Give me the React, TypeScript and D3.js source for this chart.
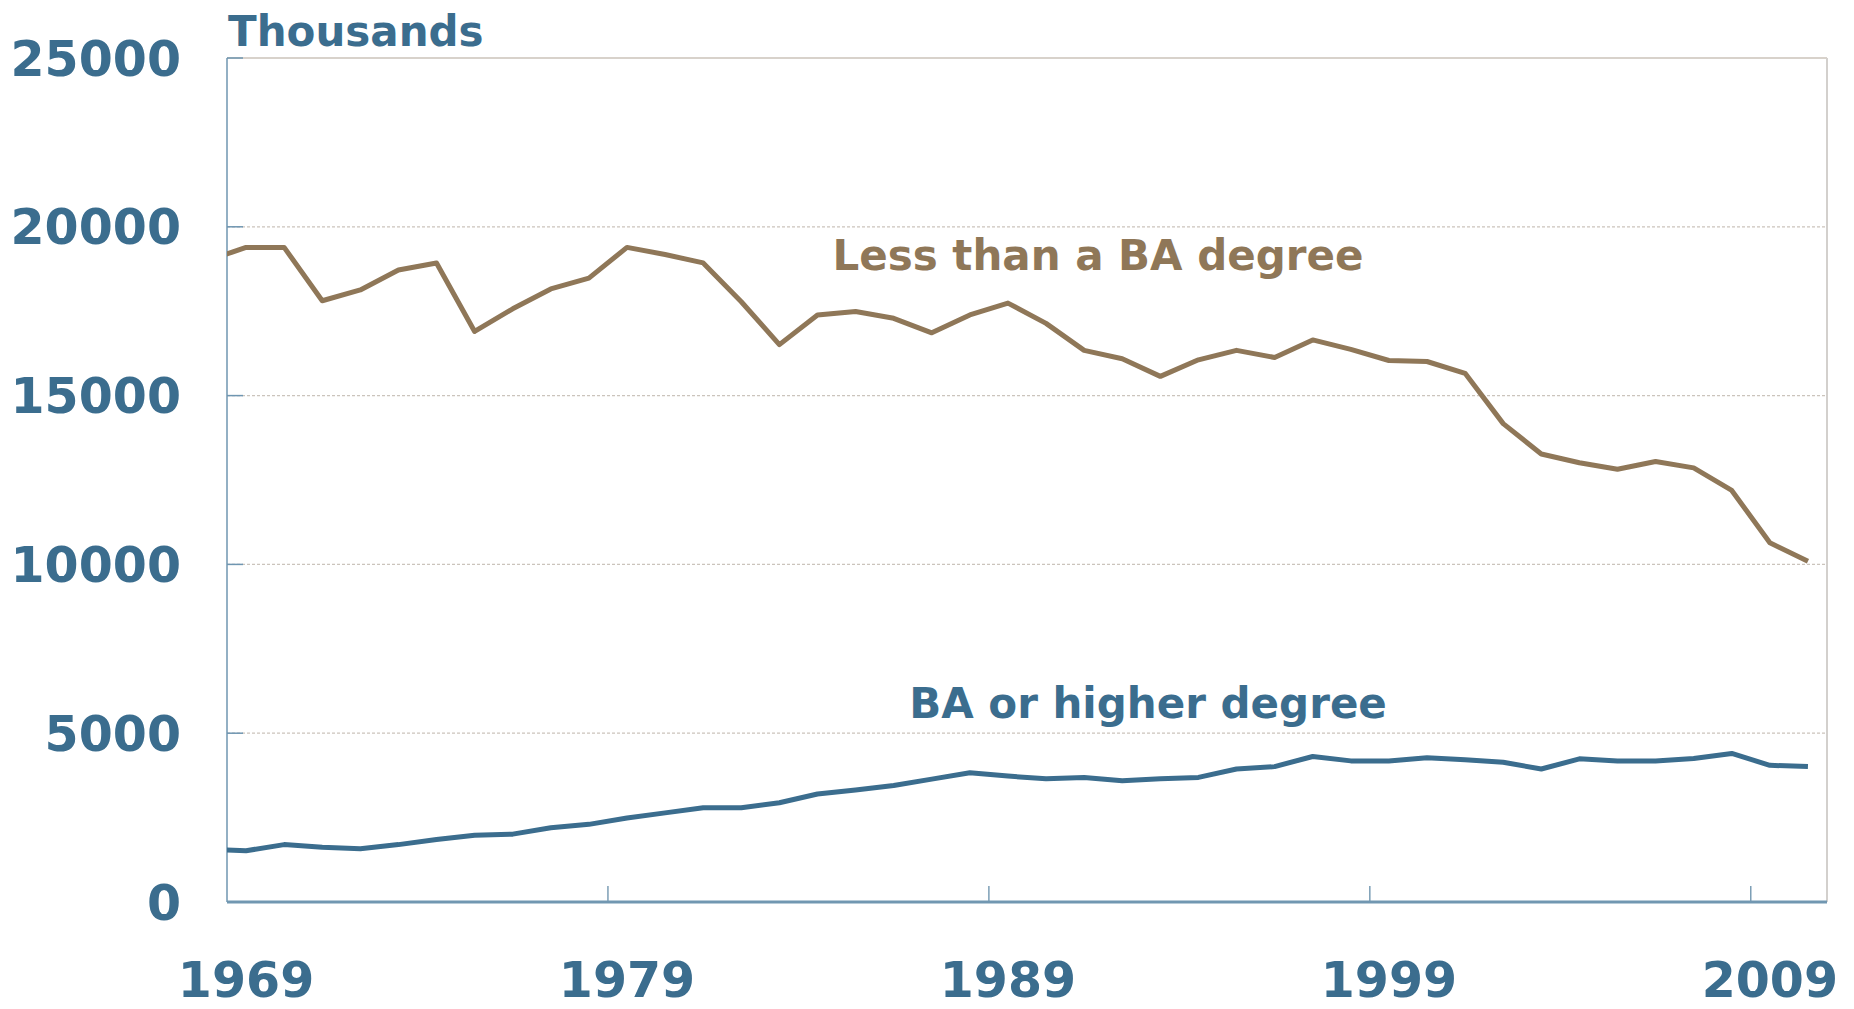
import React from 'react';
import * as d3 from 'd3';

// yearly values, thousands of workers (1968 only feeds the clipped lead-in segment)
const years = [
  1968, 1969, 1970, 1971, 1972, 1973, 1974, 1975, 1976, 1977, 1978,
  1979, 1980, 1981, 1982, 1983, 1984, 1985, 1986, 1987, 1988,
  1989, 1990, 1991, 1992, 1993, 1994, 1995, 1996, 1997, 1998,
  1999, 2000, 2001, 2002, 2003, 2004, 2005, 2006, 2007, 2008,
  2009, 2010,
];

const lessThanBA = [
  19000, 19390, 19390, 17810, 18130, 18720, 18930, 16900, 17570, 18160, 18480,
  19390, 19180, 18930, 17780, 16510, 17390, 17490, 17290, 16860, 17390,
  17740, 17140, 16340, 16090, 15570, 16060, 16340, 16130, 16650, 16370,
  16040, 16010, 15660, 14170, 13270, 13010, 12820, 13050, 12860, 12190,
  10640, 10090,
];

const baOrHigher = [
  1560, 1520, 1700, 1620, 1580, 1700, 1850, 1980, 2010, 2200, 2300,
  2490, 2640, 2790, 2790, 2940, 3200, 3320, 3450, 3640, 3830,
  3730, 3650, 3690, 3590, 3650, 3690, 3940, 4010, 4310, 4180,
  4180, 4270, 4210, 4140, 3940, 4240, 4180, 4180, 4250, 4400,
  4050, 4010,
];

const yTicks = [0, 5000, 10000, 15000, 20000, 25000];
const xTickYears = [1969, 1979, 1989, 1999, 2009];

const blue = '#3b6d8e';
const brown = '#8f7758';
const gridColor = '#cbc4bc';
const fontFamily = '"DejaVu Sans", Verdana, sans-serif';

const App = () => {
  const width = 1854;
  const height = 1009;
  const left = 227;
  const right = 1827;
  const top = 58;
  const bottom = 902;

  // category axis: each year takes one band, points sit at band centres
  const x = d3.scaleLinear().domain([1969, 2011]).range([left, right]);
  const y = d3.scaleLinear().domain([0, 25000]).range([bottom, top]);

  const line = d3
    .line<number>()
    .x((_, i) => x(years[i] + 0.5))
    .y((d) => y(d));

  return (
    <svg
      width={width}
      height={height}
      style={{ position: 'absolute', left: 0, top: 0, background: '#fff' }}
      fontFamily={fontFamily}
      fontWeight="bold"
    >
      <defs>
        <clipPath id="plot-clip">
          <rect x={left} y={top - 10} width={right - left} height={bottom - top + 20} />
        </clipPath>
      </defs>

      {/* grid lines */}
      {yTicks
        .filter((t) => t > 0 && t < 25000)
        .map((t) => (
          <line
            key={'g' + t}
            x1={left}
            x2={right}
            y1={y(t)}
            y2={y(t)}
            stroke={gridColor}
            strokeWidth={1.2}
            strokeDasharray="3,2"
          />
        ))}
      {/* top and right frame */}
      <line x1={left} x2={right} y1={y(25000)} y2={y(25000)} stroke="#d8d2cb" strokeWidth={2} />
      <line x1={right} x2={right} y1={top} y2={bottom} stroke="#d3d0cd" strokeWidth={2} />

      {/* y axis ticks (inside) */}
      {yTicks.map((t) => (
        <line key={'yt' + t} x1={left} x2={left + 16} y1={y(t)} y2={y(t)} stroke="#6f96b1" strokeWidth={1.5} />
      ))}

      {/* x axis ticks at decade band edges */}
      {xTickYears
        .filter((yr) => yr > 1969)
        .map((yr) => (
          <line key={'xt' + yr} x1={x(yr)} x2={x(yr)} y1={bottom} y2={bottom - 16} stroke="#5b86a3" strokeWidth={1.2} />
        ))}

      {/* axes */}
      <line x1={left} x2={left} y1={top} y2={bottom} stroke="#6f96b1" strokeWidth={1.5} />
      <line x1={left} x2={right} y1={bottom} y2={bottom} stroke="#7197b1" strokeWidth={3} />

      {/* series */}
      <g clipPath="url(#plot-clip)">
        <path d={line(lessThanBA) ?? ''} fill="none" stroke={brown} strokeWidth={5} strokeLinejoin="round" />
        <path d={line(baOrHigher) ?? ''} fill="none" stroke={blue} strokeWidth={5} strokeLinejoin="round" />
      </g>

      {/* y tick labels */}
      {yTicks.map((t) => (
        <text key={'yl' + t} x={181} y={y(t)} dy="0.36em" textAnchor="end" fontSize={49} fill={blue}>
          {t}
        </text>
      ))}

      {/* x tick labels */}
      {xTickYears.map((yr) => (
        <text key={'xl' + yr} x={x(yr + 0.5)} y={997} textAnchor="middle" fontSize={49} fill={blue}>
          {yr}
        </text>
      ))}

      <text x={228} y={46} fontSize={42} fill={blue}>
        Thousands
      </text>

      {/* series labels */}
      <text x={1098} y={270} textAnchor="middle" fontSize={42} fill={brown}>
        Less than a BA degree
      </text>
      <text x={1148} y={718} textAnchor="middle" fontSize={42} fill={blue}>
        BA or higher degree
      </text>
    </svg>
  );
};

export default App;
